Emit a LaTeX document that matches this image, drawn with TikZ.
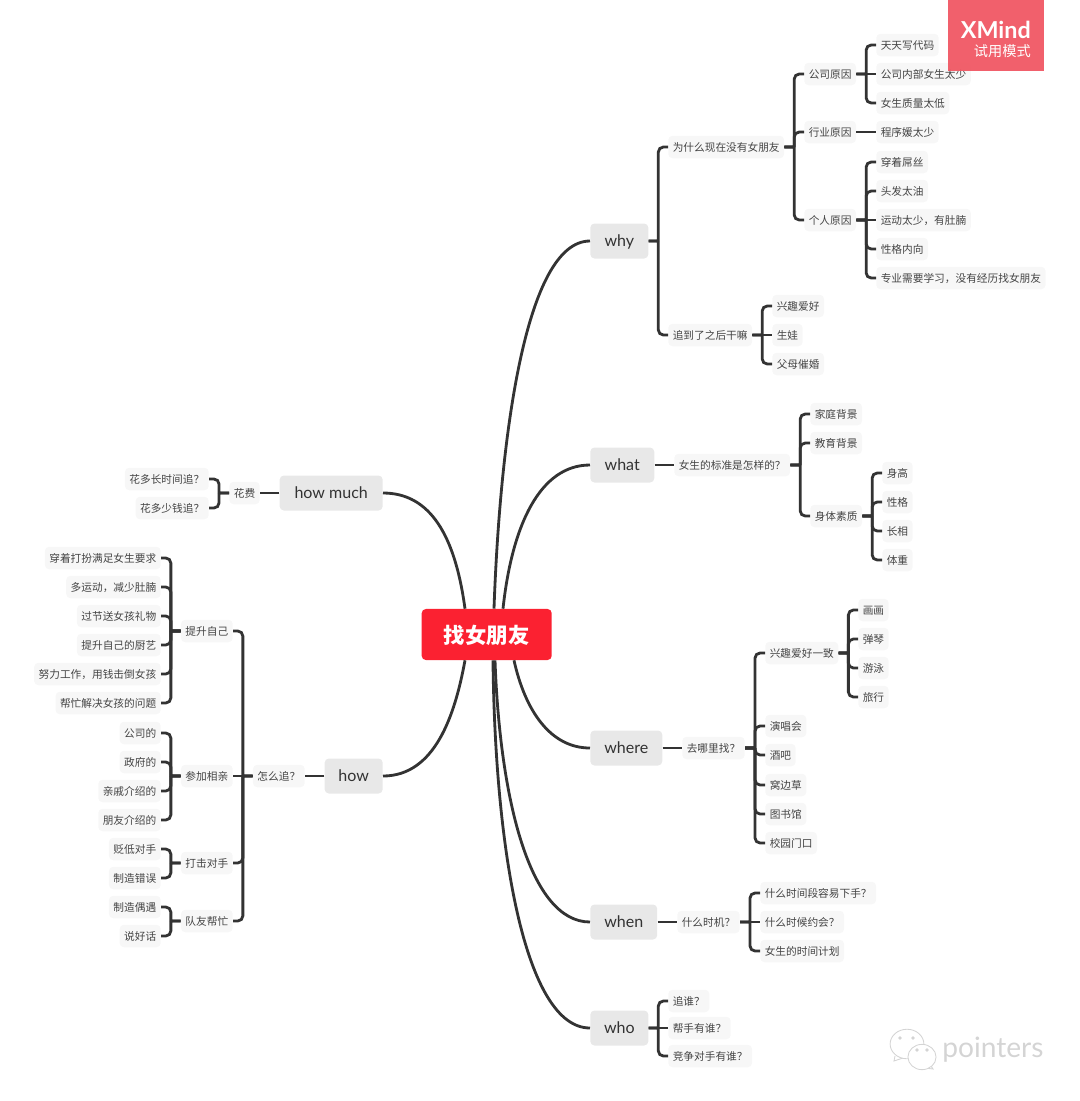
\documentclass[tikz,border=0pt]{standalone}
\usepackage{fontspec}
\setmainfont{Noto Sans CJK SC}
\newfontfamily\latinfont{Lato}
\usepackage{xcolor}
\definecolor{xmroot}{RGB}{251,33,49}
\definecolor{xmmain}{RGB}{232,232,232}
\definecolor{xmsub}{RGB}{247,247,247}
\definecolor{xmline}{RGB}{51,51,51}
\definecolor{xmtext}{RGB}{68,68,68}
\definecolor{xmbadge}{RGB}{240,90,102}
\definecolor{xmmark}{RGB}{212,212,212}
\usetikzlibrary{calc,shapes.geometric}

\begin{document}
\begin{tikzpicture}[x=0.025cm,y=-0.025cm,
  rootbox/.style={fill=xmroot,rounded corners=3pt,minimum width=92.5pt,minimum height=36.3pt,
    text height=14pt,text depth=1pt,text=white,font=\fontsize{15.2}{18}\selectfont\bfseries},
  mainbox/.style={fill=xmmain,rounded corners=3pt,minimum height=24.9pt,inner xsep=0pt,inner ysep=0pt,
    text height=9.6pt,text depth=1.9pt,text=xmline,font=\latinfont\fontsize{11.4}{14}\selectfont},
  subbox/.style={fill=xmsub,rounded corners=3pt,minimum height=16pt,inner xsep=3.2pt,inner ysep=0pt,
    text height=7.1pt,text depth=0.5pt,text=xmtext,font=\fontsize{7.6}{9}\selectfont},
  rsub/.style={subbox,anchor=west},
  lsub/.style={subbox,anchor=east},
  link/.style={draw=xmline,line width=2pt,rounded corners=3.6pt},
  curve/.style={draw=xmline,line width=2pt},
  branch/.style={to path={(\tikztostart) -- ($(\tikztostart)!.5!(\tikztotarget |- \tikztostart)$)
    ($(\tikztostart)!.5!(\tikztotarget |- \tikztostart)$) |- (\tikztotarget)}},
  badgebox/.style={fill=xmbadge,fill opacity=.96,anchor=north west,minimum width=68.3pt,minimum height=50.5pt,inner sep=0pt},
  badgetext/.style={anchor=east,inner sep=0pt,text=white},
  bubblebox/.style={draw=xmmark,fill=white,ellipse,inner sep=0pt,line width=.6pt}
]
  \useasboundingbox (0,0) rectangle (1080,1101);

  % Centre and main topics
  \node[rootbox] (root) at (486.7,634.5) {找女朋友};
  \node[mainbox,anchor=west,minimum width=41.3pt] (why) at (590,241) {why};
  \node[mainbox,anchor=west,minimum width=45.5pt] (what) at (590,465) {what};
  \node[mainbox,anchor=west,minimum width=51.2pt] (where) at (590,748) {where};
  \node[mainbox,anchor=west,minimum width=47.6pt] (when) at (590,922) {when};
  \node[mainbox,anchor=west,minimum width=41.3pt] (who) at (590,1028) {who};
  \node[mainbox,anchor=east,minimum width=73.3pt] (howmuch) at (383,493) {how much};
  \node[mainbox,anchor=east,minimum width=41.3pt] (how) at (383,776) {how};

  \draw[curve] ($(root.north)+(7.3,0)$) .. controls (500,440) and (525,241) .. (why.west);
  \draw[curve] ($(root.north)+(16.3,0)$) .. controls (512,525) and (540,465) .. (what.west);
  \draw[curve] ($(root.south)+(27.3,0)$) .. controls (525,710) and (550,748) .. (where.west);
  \draw[curve] ($(root.south)+(8.3,0)$) .. controls (500,800) and (530,922) .. (when.west);
  \draw[curve] ($(root.south)+(6.3,0)$) .. controls (495,850) and (525,1028) .. (who.west);
  \draw[curve] ($(root.north)+(-21.7,0)$) .. controls (455,535) and (430,493) .. (howmuch.east);
  \draw[curve] ($(root.south)+(-21.7,0)$) .. controls (455,715) and (435,776) .. (how.east);

  % Why
  \node[rsub] (whynow) at (668,147) {为什么现在没有女朋友};
  \node[rsub] (chased) at (668,335) {追到了之后干嘛};
  \node[rsub] (company) at (804,74) {公司原因};
  \node[rsub] (industry) at (804,132) {行业原因};
  \node[rsub] (personal) at (804,220) {个人原因};
  \node[rsub] (coding) at (876,45) {天天写代码};
  \node[rsub] (fewgirls) at (876,74) {公司内部女生太少};
  \node[rsub] (quality) at (876,103) {女生质量太低};
  \node[rsub] (coders) at (876,132) {程序媛太少};
  \node[rsub] (dress) at (876,162) {穿着屌丝};
  \node[rsub] (hair) at (876,191) {头发太油};
  \node[rsub] (belly) at (876,220) {运动太少，有肚腩};
  \node[rsub] (shy) at (876,249) {性格内向};
  \node[rsub] (study) at (876,278) {专业需要学习，没有经历找女朋友};
  \node[rsub] (hobby) at (772,306) {兴趣爱好};
  \node[rsub] (baby) at (772,335) {生娃};
  \node[rsub] (parents) at (772,364) {父母催婚};

  \foreach \c in {whynow,chased} \draw[link,branch] (why.east) to (\c.west);
  \foreach \c in {company,industry,personal} \draw[link,branch] (whynow.east) to (\c.west);
  \foreach \c in {coding,quality} \draw[link,branch] (company.east) to (\c.west);
  \draw[link] (company.east) -- (fewgirls.west);
  \draw[link] (industry.east) -- (coders.west);
  \foreach \c in {dress,hair,shy,study} \draw[link,branch] (personal.east) to (\c.west);
  \draw[link] (personal.east) -- (belly.west);
  \foreach \c in {hobby,parents} \draw[link,branch] (chased.east) to (\c.west);
  \draw[link] (chased.east) -- (baby.west);

  % What
  \node[rsub] (standard) at (674,465) {女生的标准是怎样的？};
  \node[rsub] (family) at (810,414) {家庭背景};
  \node[rsub] (school) at (810,443) {教育背景};
  \node[rsub] (body) at (810,516) {身体素质};
  \node[rsub] (height) at (882,473) {身高};
  \node[rsub] (temper) at (882,502) {性格};
  \node[rsub] (looks) at (882,531) {长相};
  \node[rsub] (weight) at (882,560) {体重};

  \draw[link] (what.east) -- (standard.west);
  \foreach \c in {family,school,body} \draw[link,branch] (standard.east) to (\c.west);
  \foreach \c in {height,temper,looks,weight} \draw[link,branch] (body.east) to (\c.west);

  % Where
  \node[rsub] (goto) at (682,748) {去哪里找？};
  \node[rsub] (same) at (765,653) {兴趣爱好一致};
  \node[rsub] (concert) at (765,726) {演唱会};
  \node[rsub] (bar) at (765,755) {酒吧};
  \node[rsub] (nest) at (765,785) {窝边草};
  \node[rsub] (library) at (765,814) {图书馆};
  \node[rsub] (gate) at (765,843) {校园门口};
  \node[rsub] (paint) at (858,610) {画画};
  \node[rsub] (piano) at (858,639) {弹琴};
  \node[rsub] (swim) at (858,668) {游泳};
  \node[rsub] (travel) at (858,697) {旅行};

  \draw[link] (where.east) -- (goto.west);
  \foreach \c in {same,concert,bar,nest,library,gate} \draw[link,branch] (goto.east) to (\c.west);
  \foreach \c in {paint,piano,swim,travel} \draw[link,branch] (same.east) to (\c.west);

  % When
  \node[rsub] (timing) at (677,922) {什么时机？};
  \node[rsub] (period) at (760,893) {什么时间段容易下手？};
  \node[rsub] (date) at (760,922) {什么时候约会？};
  \node[rsub] (plan) at (760,951) {女生的时间计划};

  \draw[link] (when.east) -- (timing.west);
  \foreach \c in {period,plan} \draw[link,branch] (timing.east) to (\c.west);
  \draw[link] (timing.east) -- (date.west);

  % Who
  \node[rsub] (target) at (668,1001) {追谁？};
  \node[rsub] (helper) at (668,1028) {帮手有谁？};
  \node[rsub] (rival) at (668,1056) {竞争对手有谁？};

  \foreach \c in {target,rival} \draw[link,branch] (who.east) to (\c.west);
  \draw[link] (who.east) -- (helper.west);

  % How much
  \node[lsub] (cost) at (260,493) {花费};
  \node[lsub] (longtime) at (209,479) {花多长时间追？};
  \node[lsub] (money) at (209,508) {花多少钱追？};

  \draw[link] (howmuch.west) -- (cost.east);
  \foreach \c in {longtime,money} \draw[link,branch] (cost.west) to (\c.east);

  % How
  \node[lsub] (chase) at (305,776) {怎么追？};
  \node[lsub] (improve) at (233,631) {提升自己};
  \node[lsub] (blind) at (233,776) {参加相亲};
  \node[lsub] (attack) at (233,863) {打击对手};
  \node[lsub] (team) at (233,921) {队友帮忙};
  \node[lsub] (outfit) at (161,558) {穿着打扮满足女生要求};
  \node[lsub] (sport) at (161,587) {多运动，减少肚腩};
  \node[lsub] (gift) at (161,616) {过节送女孩礼物};
  \node[lsub] (cook) at (161,645) {提升自己的厨艺};
  \node[lsub] (work) at (161,674) {努力工作，用钱击倒女孩};
  \node[lsub] (solve) at (161,703) {帮忙解决女孩的问题};
  \node[lsub] (firm) at (161,733) {公司的};
  \node[lsub] (gov) at (161,762) {政府的};
  \node[lsub] (kin) at (161,791) {亲戚介绍的};
  \node[lsub] (friend) at (161,820) {朋友介绍的};
  \node[lsub] (belittle) at (161,849) {贬低对手};
  \node[lsub] (mistake) at (161,878) {制造错误};
  \node[lsub] (meet) at (161,907) {制造偶遇};
  \node[lsub] (praise) at (161,936) {说好话};

  \draw[link] (how.west) -- (chase.east);
  \foreach \c in {improve,attack,team} \draw[link,branch] (chase.west) to (\c.east);
  \draw[link] (chase.west) -- (blind.east);
  \foreach \c in {outfit,sport,gift,cook,work,solve} \draw[link,branch] (improve.west) to (\c.east);
  \foreach \c in {firm,gov,kin,friend} \draw[link,branch] (blind.west) to (\c.east);
  \foreach \c in {belittle,mistake} \draw[link,branch] (attack.west) to (\c.east);
  \foreach \c in {meet,praise} \draw[link,branch] (team.west) to (\c.east);

  % Trial badge
  \node[badgebox] (xmind) at (948,0) {};
  \node[badgetext,font=\latinfont\fontsize{16.6}{19}\selectfont\bfseries] (xmindname) at (1031,30) {XMind};
  \node[badgetext,font=\fontsize{10.1}{12}\selectfont] (xmindmode) at (1031,51) {试用模式};

  % Watermark
  \draw[xmmark,fill=white,line width=.6pt] (895,1056) -- (894,1061) -- (903,1058);
  \node[bubblebox,minimum width=24pt,minimum height=21pt] (bigbubble) at (907,1044) {};
  \draw[xmmark,fill=white,line width=.6pt] (931,1066) -- (933,1069) -- (925,1068);
  \node[bubblebox,minimum width=20pt,minimum height=18pt] (smallbubble) at (922,1057) {};
  \foreach \x/\y in {900/1038,913/1038,917/1050,927/1050}
    \fill[xmmark] (\x,\y) circle (1.8);
  \node[text=xmmark,anchor=west,inner sep=0pt,font=\latinfont\fontsize{20}{22}\selectfont] (mark) at (942,1050) {pointers};
\end{tikzpicture}
\end{document}
